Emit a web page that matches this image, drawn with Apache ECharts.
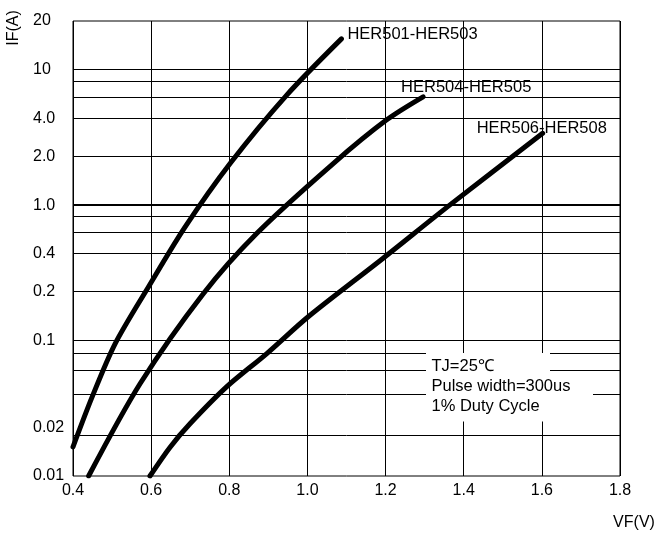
<!DOCTYPE html>
<html>
<head>
<meta charset="utf-8">
<script src="https://cdn.jsdelivr.net/npm/echarts@6/dist/echarts.min.js"></script>
<style>
html,body{margin:0;padding:0;background:#fff;}
#chart{width:658px;height:534px;}
</style>
</head>
<body>
<div id="chart"></div>
<script>
// ---- data ----
const seriesNames = ['HER501-HER503', 'HER504-HER505', 'HER506-HER508'];
const curve1 = [[0.400,0.0164],[0.449,0.0384],[0.508,0.0951],[0.593,0.249],[0.687,0.691],[0.802,2.03],[0.947,6.50],[1.087,16.9]];
const curve2 = [[0.440,0.0100],[0.572,0.0482],[0.734,0.223],[0.870,0.618],[1.066,2.03],[1.202,4.25],[1.296,6.31]];
const curve3 = [[0.597,0.0100],[0.649,0.0164],[0.700,0.0244],[0.793,0.0455],[0.896,0.0802],[1.002,0.150],[1.193,0.404],[1.364,1.00],[1.602,3.39]];
// horizontal grid lines (positions as drawn in the reference)
const gridValues = [0.0226, 0.0433, 0.0628, 0.082, 0.1, 0.229, 0.437, 0.628, 0.829, 2.28, 4.37, 6.31, 8.29, 10];
const heavyGridValues = [1];
// y tick labels and the grid line each one sits on
const yLabelValues = [0.01, 0.0226, 0.1, 0.229, 0.437, 1, 2.28, 4.37, 10, 22.9];
const yLabelTexts  = ['0.01', '0.02', '0.1', '0.2', '0.4', '1.0', '2.0', '4.0', '10', '20'];
const xMin = 0.4, xMax = 1.8, xStep = 0.2;
const yMin = 0.01, yMax = 22.9;
const notes = ['TJ=25\u2103', 'Pulse width=300us', '1% Duty Cycle'];
const labelOffsets = [[6,-4],[-22,-9],[-66,-5]];

const FONT = '"Liberation Sans", Arial, sans-serif';
const chart = echarts.init(document.getElementById('chart'));

function yLabel(v) {
  let best = 0, bd = Infinity;
  yLabelValues.forEach((lv, i) => {
    const d = Math.abs(Math.log10(lv) - Math.log10(v));
    if (d < bd) { bd = d; best = i; }
  });
  return yLabelTexts[best];
}

const curves = [curve1, curve2, curve3];
const series = curves.map((c, i) => ({
  type: 'line',
  name: seriesNames[i],
  data: c,
  showSymbol: false,
  smooth: 0.3,
  lineStyle: { color: '#000', width: 5, cap: 'round', join: 'round' },
  endLabel: {
    show: true,
    formatter: seriesNames[i],
    distance: 0,
    offset: labelOffsets[i],
    color: '#000',
    fontSize: 16.5,
    fontFamily: FONT
  },
  z: 5
}));

series.push({
  type: 'line',
  data: [],
  markLine: {
    silent: true,
    symbol: ['none', 'none'],
    animation: false,
    label: { show: false },
    data: gridValues.map(v => ({ yAxis: v, lineStyle: { color: '#000', width: 1, type: 'solid' } }))
      .concat(heavyGridValues.map(v => ({ yAxis: v, lineStyle: { color: '#000', width: 2.2, type: 'solid' } })))
  },
  z: 1
});

chart.setOption({
  animation: false,
  backgroundColor: '#fff',
  grid: { left: 73, right: 38, top: 21, bottom: 58, show: true, borderColor: '#000', borderWidth: 1, containLabel: false },
  xAxis: {
    type: 'value', min: xMin, max: xMax, interval: xStep,
    axisLine: { show: false }, axisTick: { show: false },
    splitLine: { show: true, lineStyle: { color: '#000', width: 1 } },
    axisLabel: { color: '#000', fontSize: 16, fontFamily: FONT, margin: 7, formatter: v => v.toFixed(1) }
  },
  yAxis: {
    type: 'log', min: yMin, max: yMax, logBase: 10,
    axisLine: { show: false },
    axisTick: { show: false },
    splitLine: { show: false },
    minorSplitLine: { show: false },
    axisLabel: {
      customValues: yLabelValues,
      color: '#000', fontSize: 16, fontFamily: FONT,
      align: 'left', margin: 40,
      formatter: v => yLabel(v)
    }
  },
  series: series,
  graphic: [
    { type: 'text', x: 14, y: 28, rotation: Math.PI / 2, z: 100,
      style: { text: 'IF(A)', fill: '#000', fontSize: 16, fontFamily: FONT, align: 'center', verticalAlign: 'middle' } },
    { type: 'text', x: 634, y: 523, z: 100,
      style: { text: 'VF(V)', fill: '#000', fontSize: 16, fontFamily: FONT, align: 'center', verticalAlign: 'middle' } },
    { type: 'rect', z: 100, shape: { x: 426, y: 353, width: 124, height: 24 }, style: { fill: '#fff' } },
    { type: 'rect', z: 100, shape: { x: 426, y: 377, width: 167, height: 44.5 }, style: { fill: '#fff' } },
    { type: 'text', x: 431.5, y: 366.7, z: 101,
      style: { text: notes[0], fill: '#000', fontSize: 16.5, fontFamily: FONT, align: 'left', verticalAlign: 'middle' } },
    { type: 'text', x: 431.5, y: 386.7, z: 101,
      style: { text: notes[1], fill: '#000', fontSize: 16.5, fontFamily: FONT, align: 'left', verticalAlign: 'middle' } },
    { type: 'text', x: 431.5, y: 406.7, z: 101,
      style: { text: notes[2], fill: '#000', fontSize: 16.5, fontFamily: FONT, align: 'left', verticalAlign: 'middle' } }
  ]
});
</script>
</body>
</html>
